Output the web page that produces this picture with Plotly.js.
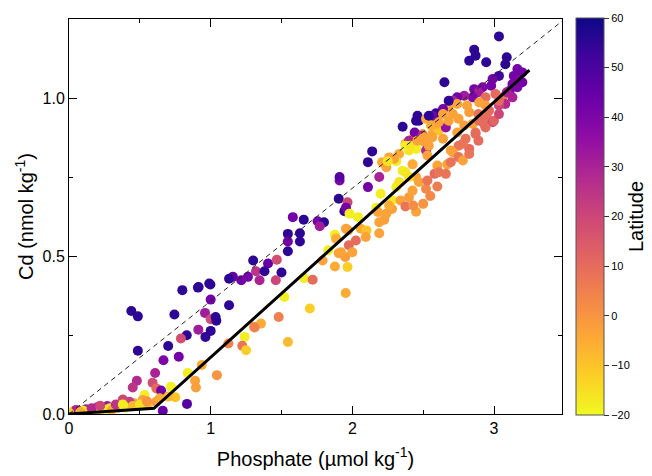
<!DOCTYPE html>
<html>
<head>
<meta charset="utf-8">
<script src="https://cdn.plot.ly/plotly-3.0.1.min.js"></script>
<style>html,body{margin:0;padding:0;background:#fff}#chart{width:652px;height:476px}</style>
</head>
<body>
<div id="chart"></div>
<script>
// [phosphate, Cd, latitude]
const samples = [
[0.44,0.326,55],[0.486,0.309,55],[0.80,0.392,55],[0.915,0.402,55],[0.998,0.41,55],[1.0,0.362,42],[1.13,0.344,55],[0.744,0.315,55],
[0.96,0.32,32],[1.0,0.30,18],[1.04,0.295,55],[1.0,0.263,55],[0.963,0.244,55],[0.913,0.267,32],[0.831,0.249,55],[0.79,0.239,18],
[0.70,0.215,55],[0.486,0.20,55],[0.667,0.17,40],[0.775,0.181,42],[0.608,0.13,30],[0.479,0.105,28],[0.45,0.084,25],[0.59,0.099,18],
[0.617,0.081,10],[0.65,0.074,42],[0.72,0.086,-18],[0.75,0.053,-10],[0.838,0.13,-18],[0.89,0.105,-3],[0.896,0.084,-2],[1.044,0.123,0],
[0.937,0.155,-5],[1.125,0.223,5],[0.833,0.032,48],[0.662,0.01,45],[0.533,0.06,-18],[0.52,0.044,-3],[0.556,0.028,-8],[0.46,0.034,-3],
[0.427,0.039,22],[0.38,0.046,20],[0.345,0.028,-18],[0.27,0.025,32],[0.2,0.021,30],[0.29,0.018,-18],[0.12,0.015,30],[0.075,0.01,30],
[0.03,0.007,-18],[0.615,0.039,-2],[0.64,0.05,-5],[0.70,0.055,-8],
[0.02,0.004,-15],[0.05,0.008,-18],[0.1,0.01,-18],[0.15,0.012,-15],[0.2,0.01,-10],[0.25,0.014,-18],[0.3,0.012,-5],[0.35,0.02,0],
[0.4,0.02,-18],[0.45,0.025,-8],[0.5,0.03,-15],[0.55,0.04,0],[0.05,0.013,30],[0.16,0.018,28],[0.22,0.026,20],[0.33,0.03,25],
[0.38,0.03,-18],[0.0,0.005,-12],[0.08,0.006,-5],
[1.91,0.739,40],[1.904,0.681,55],[1.944,0.642,55],[1.966,0.67,20],[1.58,0.623,42],[1.657,0.615,55],[1.755,0.61,42],[1.8,0.607,55],
[1.77,0.594,32],[1.545,0.57,55],[1.63,0.572,55],[1.545,0.546,42],[1.63,0.546,55],[1.545,0.515,55],[1.877,0.567,-18],[1.83,0.518,-18],
[1.904,0.509,-3],[1.95,0.497,-2],[1.79,0.486,-3],[1.877,0.467,-5],[1.966,0.465,-12],[1.953,0.383,-5],[1.30,0.486,55],[1.405,0.476,45],
[1.467,0.488,18],[1.32,0.452,25],[1.38,0.452,55],[1.50,0.448,55],[1.345,0.423,30],[1.46,0.423,20],[1.263,0.434,42],[1.216,0.423,42],
[1.157,0.434,45],[1.13,0.428,55],[0.99,0.413,55],[0.91,0.40,55],[1.035,0.307,55],[1.66,0.43,-18],[1.72,0.425,10],[1.52,0.37,-18],
[1.70,0.334,-12],[1.48,0.307,5],[1.306,0.276,-3],[1.355,0.286,-5],[1.31,0.274,5],[1.24,0.244,-18],[1.223,0.216,8],
[1.25,0.202,-12],[1.545,0.228,-8],
[2.355,0.909,55],[2.45,0.928,55],[2.14,0.831,55],[2.11,0.797,55],[1.91,0.75,48],[2.19,0.75,30],[2.11,0.718,42],[2.20,0.697,-18],
[1.955,0.653,42],[2.04,0.623,-18],[2.17,0.653,-18],[2.18,0.639,-3],[1.97,0.581,-3],[2.06,0.586,-5],[2.10,0.581,-10],[2.19,0.572,-3],
[2.225,0.615,-2],[2.28,0.649,-3],[2.28,0.676,-18],[2.34,0.676,-3],[2.375,0.657,8],[2.31,0.718,-18],[2.33,0.734,-16],[2.40,0.686,-2],
[2.425,0.707,-3],[2.47,0.734,-3],[2.52,0.713,3],[2.58,0.76,10],[2.53,0.739,8],[2.45,0.75,-3],[2.355,0.77,-18],[2.425,0.79,-5],
[2.21,0.797,-5],[2.26,0.812,-3],[2.33,0.823,-5],[2.31,0.80,-18],[2.375,0.855,-5],[2.40,0.834,-16],[2.425,0.871,-5],[2.51,0.86,-3],
[2.52,0.834,28],[2.495,0.886,-5],[2.565,0.886,-5],[2.61,0.897,-10],[2.59,0.918,-5],[2.66,0.907,35],[2.67,0.79,-3],[1.98,0.634,-18],
[1.975,0.534,10],[1.92,0.512,-3],[2.19,0.607,-3],[2.095,0.56,-3],[1.955,0.586,-3],[2.025,0.549,10],[2.0,0.512,-3],[1.885,0.555,-5],
[2.24,0.634,-3],[2.26,0.66,-5],
[3.035,1.195,55],[2.86,1.153,55],[2.87,1.134,55],[2.825,1.118,55],[2.945,1.113,55],[3.09,1.129,55],[3.08,1.107,55],[2.65,1.05,55],
[3.165,1.092,42],[3.20,1.081,42],[3.14,1.07,42],[3.175,1.055,40],[3.13,1.044,40],[3.035,1.07,52],[2.99,1.06,42],[2.98,1.039,42],
[2.92,1.034,40],[2.86,1.028,42],[2.89,1.018,32],[2.85,1.002,40],[2.79,1.007,32],[3.11,1.023,40],[3.13,1.002,30],[3.06,1.002,8],
[3.01,1.013,10],[2.94,1.002,10],[3.08,0.981,28],[3.035,0.976,20],[2.94,0.976,-2],[2.895,0.986,-3],[2.74,1.002,42],[2.71,0.991,30],
[2.74,0.981,-3],[2.81,0.976,-3],[2.68,0.97,-3],[2.64,0.965,42],[2.59,0.952,55],[2.565,0.944,42],[2.64,0.949,-3],[2.71,0.949,-3],
[2.825,0.955,-2],[2.89,0.949,8],[2.95,0.939,10],[2.93,0.918,10],[2.99,0.923,18],[2.85,0.918,-3],[2.87,0.891,8],[2.46,0.944,55],
[2.47,0.928,55],[2.44,0.891,42],[2.52,0.934,-5],[2.555,0.913,-5],[2.61,0.923,-3],[2.68,0.928,-3],[2.75,0.934,-3],[2.79,0.913,-2],
[2.74,0.891,-3],[2.80,0.871,8],[2.75,0.849,8],[2.825,0.839,10],[2.71,0.828,-3],[2.75,0.813,8],[2.695,0.797,8],[2.64,0.871,-3],
[2.495,0.881,30],[2.40,0.865,30],[2.375,0.849,-18],[2.45,0.839,-18],[2.54,0.849,-3],[2.53,0.818,-3],[2.60,0.786,-3],[2.61,0.765,8],
[2.68,0.991,55],[2.54,0.944,55],[2.24,0.781,-3],[2.295,0.808,-3],[2.41,0.849,-16],[2.46,0.865,-3],[2.505,0.876,-3],[2.565,0.876,-3],
[2.25,0.80,-16],[2.375,0.765,-17],[2.40,0.75,-16],
[2.78,0.802,-3],[2.825,0.823,8],[2.89,0.865,10],[2.87,0.886,10],[2.94,0.907,10],[3.0,0.928,12],[3.035,0.949,20],[3.165,1.034,40],
[3.20,1.05,42],[3.09,1.018,30],[3.035,0.991,10],[2.965,0.96,10],[2.895,0.928,10],[2.78,0.855,8],[2.695,0.834,-3],
[2.55,0.69,3],[2.6,0.72,6],[2.66,0.76,8],[2.5,0.665,0],[2.45,0.64,-3],[2.43,0.66,2]
];
const phosphate = samples.map(s => s[0]);
const cadmium = samples.map(s => s[1]);
const latitude = samples.map(s => s[2]);

const fitX = [0, 0.6, 3.25];
const fitY = [0, 0.018, 1.088];
const refX = [0, 3.5];
const refY = [0, 1.25];

const plasmaR = [[0,'#f0f921'],[0.1,'#fcce25'],[0.2,'#fca636'],[0.3,'#f2844b'],[0.4,'#e16462'],[0.5,'#cc4778'],
  [0.6,'#b12a90'],[0.7,'#8f0da4'],[0.8,'#6a00a8'],[0.9,'#41049d'],[1,'#0d0887']];

const font = 'Liberation Sans, Arial, sans-serif';
const traces = [
  {x: phosphate, y: cadmium, type: 'scatter', mode: 'markers', hoverinfo: 'none',
   marker: {size: 10, color: latitude, colorscale: plasmaR, cmin: -20, cmax: 60, line: {width: 0},
     colorbar: {x: 1.0284, xanchor: 'left', xpad: 0, y: 0.5, yanchor: 'middle', ypad: 0, len: 1.005, thickness: 28,
       outlinewidth: 1, outlinecolor: '#555', ticks: 'outside', ticklen: 5, tickcolor: '#333',
       tickvals: [-20,-10,0,10,20,30,40,50,60], tickfont: {family: font, size: 11, color: '#000'},
       title: {text: 'Latitude', side: 'right', font: {family: font, size: 20, color: '#000'}}}}},
  {x: refX, y: refY, type: 'scatter', mode: 'lines', hoverinfo: 'none', line: {color: '#222', width: 1, dash: '5px,4px'}},
  {x: fitX, y: fitY, type: 'scatter', mode: 'lines', hoverinfo: 'none', line: {color: '#000', width: 3}}
];
const layout = {
  width: 652, height: 476, margin: {l: 69, r: 90, t: 19, b: 62, autoexpand: false}, showlegend: false,
  paper_bgcolor: '#fff', plot_bgcolor: '#fff', font: {family: font, color: '#000'},
  xaxis: {range: [0, 3.48], dtick: 1, tick0: 0, showgrid: false, zeroline: false, showline: true, mirror: 'ticks',
    linecolor: '#000', linewidth: 1, ticks: 'inside', ticklen: 8, tickcolor: '#000', automargin: false,
    minor: {dtick: 0.5, ticks: 'inside', ticklen: 4, tickcolor: '#000', showgrid: false},
    tickfont: {family: font, size: 16}, title: {text: 'Phosphate (µmol kg<sup>-1</sup>)', font: {family: font, size: 20}, standoff: 15}},
  yaxis: {range: [0, 1.25], dtick: 0.5, tick0: 0, tickformat: '.1f', showgrid: false, zeroline: false, showline: true, mirror: 'ticks',
    linecolor: '#000', linewidth: 1, ticks: 'inside', ticklen: 8, tickcolor: '#000', automargin: false,
    minor: {dtick: 0.25, ticks: 'inside', ticklen: 4, tickcolor: '#000', showgrid: false},
    tickfont: {family: font, size: 16}, title: {text: 'Cd (nmol kg<sup>-1</sup>)', font: {family: font, size: 20}, standoff: 3}}
};
Plotly.newPlot('chart', traces, layout, {displayModeBar: false, staticPlot: true});
</script>
</body>
</html>
